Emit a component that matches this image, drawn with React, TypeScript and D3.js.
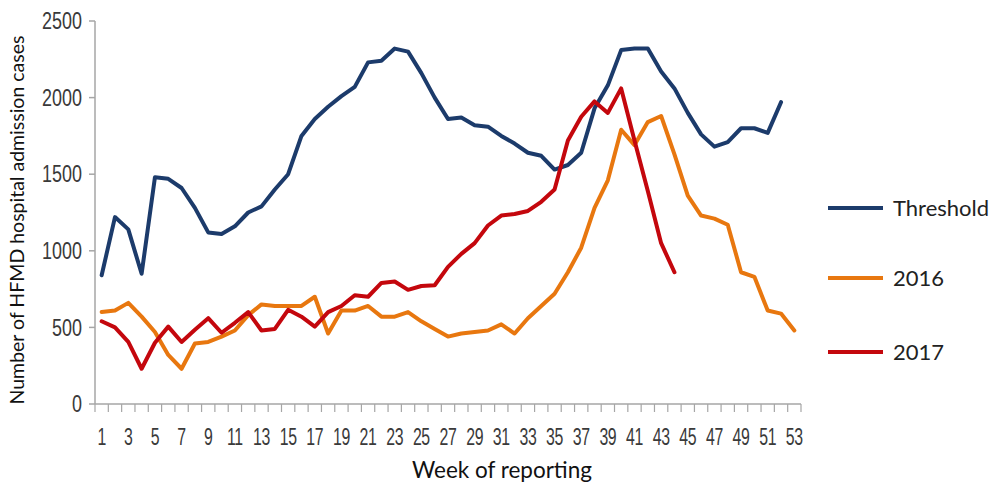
import * as d3 from 'd3';

const weeks = [
  1, 2, 3, 4, 5, 6, 7, 8, 9, 10, 11, 12, 13, 14, 15, 16, 17, 18, 19, 20, 21, 22, 23, 24, 25, 26, 27,
  28, 29, 30, 31, 32, 33, 34, 35, 36, 37, 38, 39, 40, 41, 42, 43, 44, 45, 46, 47, 48, 49, 50, 51, 52, 53,
];

const threshold = [
  840, 1220, 1140, 850, 1480, 1470, 1410, 1280, 1120, 1110, 1160, 1250, 1290, 1400, 1500, 1750, 1860,
  1940, 2010, 2070, 2230, 2240, 2320, 2300, 2160, 2000, 1860, 1870, 1820, 1810, 1750, 1700, 1640, 1620,
  1530, 1560, 1640, 1930, 2080, 2310, 2320, 2320, 2170, 2060, 1900, 1760, 1680, 1710, 1800, 1800, 1770,
  1970,
];

const cases2016 = [
  600, 610, 660, 570, 470, 320, 230, 395, 405, 440, 480, 580, 650, 640, 640, 640, 700, 460, 610, 610,
  640, 570, 570, 600, 540, 490, 440, 460, 470, 480, 520, 460, 560, 640, 720, 860, 1020, 1280, 1460, 1790,
  1690, 1840, 1880, 1630, 1360, 1230, 1210, 1170, 860, 830, 610, 590, 480,
];

const cases2017 = [
  540, 500, 405, 230, 400, 505, 405, 485, 560, 465, 530, 600, 480, 490, 615, 570, 505, 600, 640, 710,
  700, 790, 800, 745, 770, 775, 895, 980, 1050, 1165, 1230, 1240, 1260, 1320, 1400, 1720, 1875, 1975,
  1900, 2060, 1720, 1390, 1050, 860,
];

const yTicks = [0, 500, 1000, 1500, 2000, 2500];
const xLabels = [1, 3, 5, 7, 9, 11, 13, 15, 17, 19, 21, 23, 25, 27, 29, 31, 33, 35, 37, 39, 41, 43, 45, 47, 49, 51, 53];

const series = [
  { name: 'Threshold', values: threshold, color: '#1c3b6b' },
  { name: '2016', values: cases2016, color: '#e8770f' },
  { name: '2017', values: cases2017, color: '#c4070d' },
];

const App = () => {
  const left = 95;
  const right = 801;
  const top = 21;
  const bottom = 404;

  // category axis: each week sits in the middle of its band
  const x = d3.scaleBand<number>().domain(weeks).range([left, right]);
  const xc = (w: number) => (x(w) as number) + x.bandwidth() / 2;
  const y = d3.scaleLinear().domain([0, 2500]).range([bottom, top]);

  const line = d3
    .line<number>()
    .x((d, i) => xc(weeks[i]))
    .y((d) => y(d));

  const axisColor = '#a6a6a6';
  const tickFont = '"Liberation Sans", Arial, sans-serif';
  const titleFont = 'Lato, sans-serif';

  return (
    <svg width={999} height={490} style={{ position: 'absolute', left: 0, top: 0, background: '#fff' }}>
      {/* y axis */}
      <line x1={left} x2={left} y1={top} y2={bottom} stroke={axisColor} strokeWidth={1.5} />
      {yTicks.map((t) => (
        <g key={t}>
          <line x1={left - 6} x2={left} y1={y(t)} y2={y(t)} stroke={axisColor} strokeWidth={1.5} />
          <g transform={`translate(${left - 13},${y(t)}) scale(0.78,1)`}>
            <text dy="0.36em" textAnchor="end" fontFamily={tickFont} fontSize={23} fill="#3a3a3a">
              {t}
            </text>
          </g>
        </g>
      ))}

      {/* x axis */}
      <line x1={left} x2={right} y1={bottom} y2={bottom} stroke={axisColor} strokeWidth={1.5} />
      {weeks.concat([54]).map((w) => {
        const px = w === 54 ? right : (x(w) as number);
        return <line key={w} x1={px} x2={px} y1={bottom} y2={bottom + 8} stroke={axisColor} strokeWidth={1.2} />;
      })}
      {xLabels.map((w) => (
        <g key={w} transform={`translate(${xc(w)},445) scale(0.66,1)`}>
          <text textAnchor="middle" fontFamily={tickFont} fontSize={24} letterSpacing={-0.5} fill="#3a3a3a">
            {w}
          </text>
        </g>
      ))}

      {/* lines */}
      {series.map((s) => (
        <path
          key={s.name}
          d={line(s.values) as string}
          fill="none"
          stroke={s.color}
          strokeWidth={4}
          strokeLinejoin="round"
          strokeLinecap="round"
        />
      ))}

      {/* axis titles */}
      <text x={502} y={478} textAnchor="middle" fontFamily={titleFont} fontSize={22.5} fill="#111">
        Week of reporting
      </text>
      <text
        transform="translate(24,220) rotate(-90)"
        textAnchor="middle"
        fontFamily={titleFont}
        fontSize={19.5}
        fill="#111"
      >
        Number of HFMD hospital admission cases
      </text>

      {/* legend */}
      {series.map((s, i) => {
        const ly = [208, 278, 352][i];
        return (
          <g key={s.name}>
            <line x1={828} x2={883} y1={ly} y2={ly} stroke={s.color} strokeWidth={4} />
            <text x={893} y={ly} dy="0.36em" fontFamily={titleFont} fontSize={22} fill="#222">
              {s.name}
            </text>
          </g>
        );
      })}
    </svg>
  );
};

export default App;
